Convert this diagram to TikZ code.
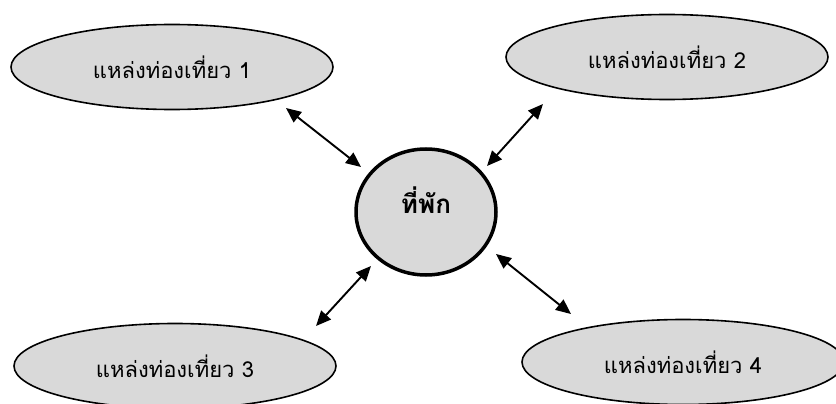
\documentclass[tikz,border=0pt]{standalone}
\usepackage{fontspec}
\newfontfamily\thaifont[Script=Thai]{Loma}
\usetikzlibrary{shapes.geometric,arrows.meta}
\definecolor{fillgray}{HTML}{D9D9D9}
\tikzset{
  place/.style={ellipse, draw=black, line width=1.6pt, fill=fillgray, inner sep=0pt,
    minimum width=322pt, minimum height=85pt, font=\thaifont\fontsize{22}{24}\selectfont},
  hub/.style={ellipse, draw=black, line width=3.5pt, fill=fillgray, inner sep=0pt,
    minimum width=140pt, minimum height=126pt},
  hubtext/.style={font=\thaifont\bfseries\fontsize{26}{28}\selectfont},
  link/.style={line width=1.9pt, {Triangle[length=15pt,width=13pt]}-{Triangle[length=15pt,width=13pt]}}
}
\begin{document}
\begin{tikzpicture}[x=1pt,y=-1pt]
\useasboundingbox (0,0) rectangle (836,404);
\node[place] (p1) at (172,67) {แหล่งท่องเที่ยว 1};
\node[place] (p2) at (667,57) {แหล่งท่องเที่ยว 2};
\node[place] (p3) at (175,366) {แหล่งท่องเที่ยว 3};
\node[place] (p4) at (683,362) {แหล่งท่องเที่ยว 4};
\node[hub] (c) at (426,212) {};
\node[hubtext] (ct) at (426,200) {ที่พัก};
\coordinate (a1s) at (286,108); \coordinate (a1e) at (361,167);
\coordinate (a2s) at (543,104); \coordinate (a2e) at (487,166);
\coordinate (a3s) at (371,266); \coordinate (a3e) at (316,326);
\coordinate (a4s) at (496,254); \coordinate (a4e) at (571,314);
\draw[link] (a1s) -- (a1e);
\draw[link] (a2s) -- (a2e);
\draw[link] (a3s) -- (a3e);
\draw[link] (a4s) -- (a4e);
\end{tikzpicture}
\end{document}
